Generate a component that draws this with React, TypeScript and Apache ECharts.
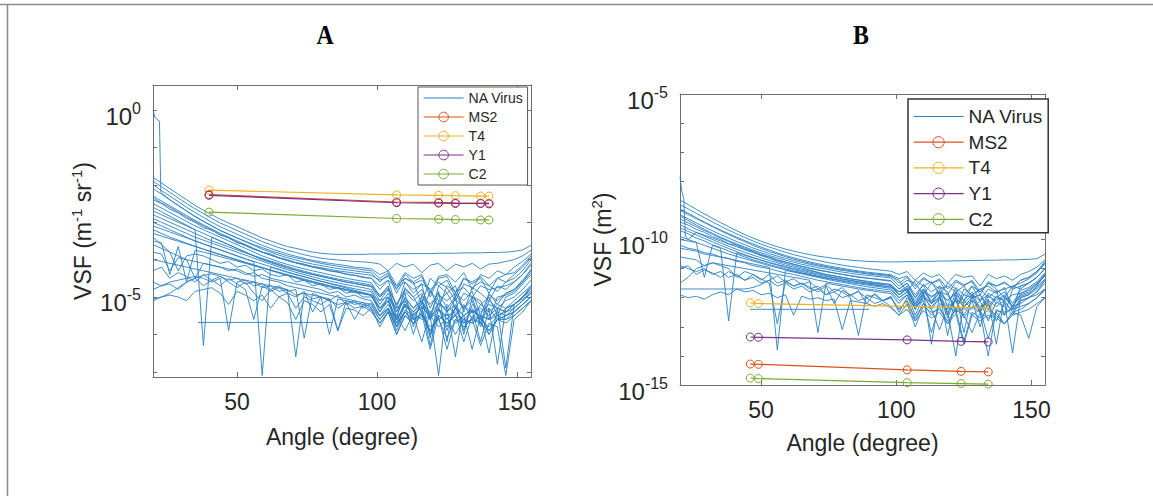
import React, { useEffect, useRef } from 'react';
import * as echarts from 'echarts';

// ---------- DATA (VSF values stored as log10 exponents) ----------
const angleGrid = [20, 23, 26, 29, 32, 35, 38, 41, 44, 47, 50, 53, 56, 59, 62, 65, 68, 71, 74, 77, 80, 83, 86, 89, 92, 95, 98, 101, 104, 107, 110, 113, 116, 119, 122, 125, 128, 131, 134, 137, 140, 143, 146, 149, 152, 155];

const xTickValues = [50, 100, 150];
const yTicksA = [-5, 0];
const yMinorA = [-7, -6, -5, -4, -3, -2, -1, 0];
const yTicksB = [-15, -10, -5];
const yMinorB = [-15, -14, -13, -12, -11, -10, -9, -8, -7, -6, -5];

// Panel A: NA virus curves, log10(VSF in m^-1 sr^-1)
const naVirusA: number[][] = [
  [-1.8, -1.95, -2.1, -2.25, -2.4, -2.55, -2.68, -2.8, -2.92, -3.02, -3.12, -3.22, -3.32, -3.42, -3.5, -3.58, -3.65, -3.7, -3.75, -3.8, -3.83, -3.85, -3.86, -3.86, -3.86, -3.86, -3.85, -3.85, -3.85, -3.85, -3.84, -3.84, -3.84, -3.84, -3.83, -3.83, -3.83, -3.82, -3.82, -3.82, -3.81, -3.81, -3.8, -3.78, -3.74, -3.62],
  [-1.9, -2.05, -2.2, -2.35, -2.5, -2.64, -2.77, -2.9, -3.02, -3.12, -3.22, -3.32, -3.42, -3.52, -3.6, -3.68, -3.75, -3.81, -3.87, -3.92, -3.96, -3.99, -4.01, -4.03, -4.05, -4.06, -4.08, -4.12, -4.3, -4.1, -4.2, -4.12, -4.35, -4.15, -4.1, -4.3, -4.12, -4.2, -4.1, -4.25, -4.12, -4.1, -4.05, -4.0, -3.9, -3.75],
  [-2.0, -2.15, -2.3, -2.45, -2.6, -2.74, -2.87, -3.0, -3.12, -3.22, -3.32, -3.42, -3.52, -3.62, -3.7, -3.78, -3.85, -3.91, -3.97, -4.02, -4.06, -4.1, -4.13, -4.16, -4.2, -4.22, -4.25, -4.4, -4.3, -4.7, -4.35, -4.5, -4.4, -4.9, -4.45, -4.4, -4.6, -4.35, -4.8, -4.4, -4.5, -4.3, -4.4, -4.2, -4.05, -3.85],
  [-2.1, -2.25, -2.4, -2.55, -2.7, -2.84, -2.97, -3.1, -3.22, -3.32, -3.42, -3.52, -3.62, -3.72, -3.8, -3.88, -3.95, -4.01, -4.07, -4.12, -4.16, -4.2, -4.24, -4.27, -4.3, -4.33, -4.36, -4.6, -4.4, -4.9, -4.5, -4.6, -5.2, -4.5, -4.7, -4.55, -5.0, -4.5, -4.65, -4.5, -4.9, -4.5, -4.6, -4.4, -4.2, -3.95],
  [-2.3, -2.43, -2.56, -2.69, -2.82, -2.95, -3.07, -3.18, -3.3, -3.4, -3.5, -3.6, -3.7, -3.8, -3.88, -3.96, -4.03, -4.09, -4.15, -4.2, -4.25, -4.3, -4.34, -4.38, -4.42, -4.46, -4.5, -4.8, -4.55, -5.3, -4.6, -4.8, -4.65, -5.6, -4.7, -4.9, -4.7, -5.4, -4.75, -4.9, -5.1, -4.7, -4.8, -4.6, -4.4, -4.15],
  [-2.5, -2.62, -2.74, -2.86, -2.98, -3.1, -3.2, -3.3, -3.4, -3.5, -3.6, -3.7, -3.8, -3.9, -3.98, -4.06, -4.13, -4.19, -4.25, -4.3, -4.35, -4.4, -4.45, -4.5, -4.54, -4.58, -4.62, -5.0, -4.7, -5.6, -4.75, -5.0, -4.8, -5.3, -4.85, -6.2, -4.9, -5.1, -4.85, -5.5, -4.9, -5.2, -4.9, -4.8, -4.55, -4.3],
  [-2.7, -2.8, -2.9, -3.0, -3.1, -3.2, -3.3, -3.4, -3.5, -3.6, -3.7, -3.8, -3.9, -4.0, -4.08, -4.16, -4.23, -4.29, -4.35, -4.4, -4.45, -4.5, -4.55, -4.6, -4.64, -4.68, -4.72, -5.1, -4.8, -5.4, -4.9, -5.8, -4.95, -5.2, -4.9, -5.3, -5.0, -6.0, -5.0, -5.2, -5.0, -5.5, -5.0, -4.9, -4.65, -4.4],
  [-2.9, -3.0, -3.1, -3.2, -3.3, -3.4, -3.48, -3.56, -3.64, -3.72, -3.8, -3.88, -3.96, -4.04, -4.12, -4.2, -4.27, -4.34, -4.4, -4.46, -4.52, -4.57, -4.62, -4.67, -4.71, -4.75, -4.8, -5.2, -4.9, -5.5, -5.0, -5.3, -5.0, -6.1, -5.1, -5.4, -5.05, -5.3, -5.1, -5.8, -5.1, -5.3, -5.1, -5.0, -4.8, -4.55],
  [-3.1, -3.18, -3.26, -3.34, -3.42, -3.5, -3.58, -3.66, -3.74, -3.82, -3.9, -3.98, -4.05, -4.12, -4.19, -4.26, -4.33, -4.4, -4.46, -4.52, -4.58, -4.63, -4.68, -4.73, -4.78, -4.82, -4.86, -5.3, -5.0, -5.7, -5.1, -5.4, -5.1, -5.5, -7.1, -5.2, -5.5, -5.2, -5.6, -5.2, -5.4, -5.2, -5.3, -5.1, -4.9, -4.7],
  [-3.3, -3.37, -3.44, -3.51, -3.58, -3.65, -3.72, -3.79, -3.86, -3.93, -4.0, -4.07, -4.14, -4.21, -4.28, -4.35, -4.42, -4.49, -4.56, -4.62, -4.68, -4.73, -4.78, -4.83, -4.88, -4.92, -4.96, -5.4, -5.1, -5.8, -5.2, -5.5, -5.25, -6.3, -5.3, -5.6, -5.3, -5.7, -5.35, -5.5, -6.5, -5.3, -5.4, -5.2, -5.0, -4.85],
  [-3.5, -3.55, -4.4, -3.65, -4.6, -3.75, -3.8, -3.86, -3.92, -3.98, -4.04, -4.1, -4.16, -4.22, -4.28, -4.34, -4.4, -4.46, -4.52, -4.58, -4.64, -4.7, -4.75, -4.8, -4.85, -4.9, -4.95, -5.3, -5.1, -5.6, -5.2, -6.0, -5.25, -5.5, -5.3, -5.8, -5.3, -5.5, -5.35, -6.2, -5.3, -5.6, -5.3, -5.2, -5.05, -4.9],
  [-3.4, -3.6, -3.8, -4.3, -3.9, -3.85, -3.9, -4.0, -4.1, -4.05, -4.2, -4.15, -4.3, -4.25, -4.4, -4.45, -4.4, -4.6, -4.55, -4.7, -4.65, -4.8, -4.75, -4.9, -4.85, -5.0, -5.0, -5.3, -5.1, -5.6, -5.2, -5.4, -5.2, -5.6, -5.3, -5.9, -5.25, -5.5, -5.3, -5.6, -5.3, -6.8, -5.3, -5.2, -5.0, -4.7],
  [-5.1, -5.0, -4.9, -4.75, -4.6, -4.5, -4.42, -4.38, -4.45, -4.55, -4.5, -4.65, -4.6, -4.75, -4.7, -4.85, -4.8, -4.95, -4.9, -5.05, -5.0, -5.1, -5.2, -5.15, -5.3, -5.25, -5.4, -5.7, -5.4, -6.0, -5.5, -5.7, -5.5, -5.9, -5.55, -6.4, -5.6, -5.8, -5.6, -5.7, -5.9, -5.6, -5.7, -5.5, -5.3, -5.1],
  [-5.05, -5.0, -4.95, -5.0, -5.1, -4.85, -4.8, -4.75, -4.9, -5.2, -4.85, -4.95, -5.1, -4.95, -5.3, -5.0, -5.15, -5.6, -5.1, -5.2, -5.4, -5.2, -5.9, -5.3, -5.35, -5.5, -5.3, -5.8, -5.4, -6.0, -5.5, -5.7, -5.5, -5.8, -5.6, -6.1, -5.6, -5.7, -5.6, -6.3, -5.7, -5.8, -7.1, -5.6, -5.4, -5.1],
  [-3.0, -3.1, -3.2, -3.3, -3.4, -3.5, -3.58, -3.66, -3.74, -3.82, -3.9, -3.98, -4.06, -7.1, -4.2, -4.27, -4.34, -4.4, -4.46, -4.52, -4.58, -4.64, -4.7, -4.76, -4.82, -4.88, -4.94, -5.4, -5.0, -5.3, -5.1, -5.6, -5.15, -5.4, -5.2, -5.3, -6.6, -5.25, -5.4, -5.3, -5.5, -5.3, -5.4, -5.2, -5.0, -4.8],
  [-2.6, -2.72, -2.84, -2.96, -3.08, -3.2, -6.3, -3.4, -3.5, -3.6, -3.7, -3.8, -3.9, -3.98, -4.06, -4.14, -4.21, -4.28, -4.34, -4.4, -4.45, -4.5, -4.55, -4.6, -4.64, -4.68, -4.72, -5.0, -4.8, -5.2, -4.85, -5.1, -4.9, -5.5, -4.95, -5.1, -4.9, -5.3, -5.0, -5.1, -5.6, -5.0, -4.95, -4.85, -4.6, -4.35],
  [-3.6, -3.7, -3.8, -3.9, -4.0, -4.05, -4.1, -4.15, -4.2, -4.25, -4.3, -4.4, -4.35, -4.5, -4.55, -4.6, -4.7, -4.75, -4.8, -4.85, -4.9, -4.95, -5.0, -5.05, -5.1, -5.15, -5.2, -5.6, -5.3, -5.9, -5.4, -5.7, -5.4, -6.0, -5.5, -5.7, -5.45, -6.2, -5.5, -5.6, -5.8, -5.5, -5.6, -5.4, -5.2, -5.0],
  [-4.0, -4.05, -4.1, -4.15, -4.2, -4.25, -4.3, -4.35, -4.4, -4.45, -4.5, -4.55, -4.6, -4.65, -4.7, -4.75, -4.8, -6.6, -4.9, -4.95, -5.0, -5.05, -5.9, -5.1, -5.15, -5.2, -5.25, -5.5, -5.3, -5.7, -5.4, -5.6, -5.45, -6.4, -5.5, -5.7, -5.5, -5.8, -5.55, -5.7, -6.0, -5.6, -5.6, -5.5, -5.3, -5.1],
  [-2.4, -2.5, -2.65, -2.75, -2.9, -3.0, -3.15, -3.2, -3.35, -3.4, -3.55, -3.6, -3.72, -3.8, -3.85, -3.95, -4.0, -4.08, -4.12, -4.2, -4.22, -4.3, -4.32, -4.4, -4.42, -4.48, -4.5, -4.7, -4.55, -4.75, -4.6, -4.9, -4.65, -4.8, -5.3, -4.7, -4.85, -4.75, -5.0, -4.7, -4.8, -4.75, -4.7, -4.6, -4.4, -4.1],
  [-4.3, -4.2, -4.5, -4.35, -4.45, -4.6, -4.4, -4.55, -4.7, -4.5, -4.65, -4.8, -5.6, -4.7, -4.85, -4.75, -4.9, -5.0, -4.85, -5.4, -5.0, -5.1, -4.95, -5.2, -5.1, -5.3, -5.15, -5.5, -5.3, -5.8, -5.35, -5.5, -6.2, -5.4, -5.6, -5.45, -5.7, -5.5, -6.4, -5.5, -5.6, -5.5, -5.4, -5.3, -5.1, -4.9],
  [-4.6, -4.7, -4.65, -4.8, -4.6, -4.5, -4.7, -4.55, -4.45, -4.6, -4.75, -4.6, -4.9, -5.1, -4.8, -5.0, -4.9, -5.3, -5.0, -5.1, -5.2, -5.05, -5.3, -5.15, -5.6, -5.2, -5.35, -5.7, -5.4, -5.5, -5.9, -5.45, -5.6, -5.5, -5.8, -5.55, -6.0, -5.6, -5.7, -5.5, -5.9, -5.6, -5.5, -5.4, -5.2, -5.0],
  [-2.8, -2.9, -3.0, -3.1, -3.2, -3.3, -3.4, -3.5, -3.58, -3.66, -3.74, -3.82, -3.9, -3.97, -4.04, -4.11, -4.18, -4.25, -4.31, -4.37, -4.42, -4.47, -4.52, -4.56, -4.6, -4.64, -4.68, -4.95, -4.75, -5.2, -4.8, -5.0, -5.4, -4.85, -5.1, -4.9, -5.3, -4.9, -5.0, -5.7, -4.95, -5.1, -4.9, -4.8, -4.6, -4.25],
  [-2.35, -2.48, -2.6, -2.73, -2.86, -2.98, -3.1, -3.22, -3.33, -3.43, -3.53, -3.63, -3.72, -3.8, -3.88, -3.95, -4.02, -4.08, -4.13, -4.18, -4.22, -4.26, -4.3, -4.33, -4.36, -4.39, -4.42, -4.55, -4.45, -4.7, -4.5, -4.65, -4.55, -4.8, -4.6, -4.75, -5.1, -4.65, -4.75, -4.6, -4.7, -4.85, -4.6, -4.5, -4.3, -4.0],
  [-4.8, -4.7, -4.6, -4.55, -4.5, -4.45, -4.5, -4.6, -4.5, -5.9, -4.6, -4.55, -4.7, -4.65, -4.8, -4.7, -4.85, -4.8, -6.1, -4.9, -5.0, -6.0, -5.05, -5.1, -5.2, -5.15, -5.3, -5.6, -5.35, -5.8, -5.4, -5.6, -5.45, -5.9, -5.5, -5.7, -5.5, -5.6, -5.7, -5.5, -6.0, -5.6, -5.5, -5.4, -5.2, -5.0],
  [-3.2, -3.3, -3.4, -3.48, -3.56, -3.64, -3.72, -3.8, -3.87, -3.94, -4.01, -4.08, -4.15, -4.22, -4.29, -4.36, -4.42, -4.48, -4.54, -4.6, -4.65, -4.7, -4.75, -4.8, -4.85, -4.9, -4.95, -5.1, -5.0, -5.4, -5.05, -5.3, -5.1, -5.6, -5.15, -5.4, -5.2, -5.9, -5.2, -5.4, -5.2, -5.3, -6.9, -5.2, -5.0, -4.75],
  [-3.8, -3.85, -4.3, -3.95, -4.0, -4.5, -4.1, -4.15, -4.2, -4.3, -4.25, -4.35, -4.45, -4.4, -4.5, -4.55, -4.6, -4.65, -4.7, -4.75, -4.8, -4.9, -4.85, -5.0, -4.95, -5.05, -5.1, -5.5, -5.2, -5.6, -5.25, -5.45, -5.3, -6.0, -5.35, -5.5, -5.4, -5.6, -5.4, -5.5, -5.6, -5.4, -5.5, -5.3, -5.1, -4.9],
];
// Panel A: curves with their own angles ([angle, log10 VSF])
const naSpikeCurveA: number[][] = [[20, 0.0], [20.7, -0.2], [22.3, -0.3], [22.8, -2.2], [26, -2.4], [29, -2.55], [32, -2.7], [35, -2.85], [38, -2.98], [41, -3.1], [44, -3.22], [47, -3.32], [50, -3.42], [56, -3.6], [62, -3.76], [68, -3.9], [74, -4.0], [80, -4.1], [86, -4.18], [92, -4.24], [98, -4.3], [101, -4.5], [104, -4.35], [107, -4.8], [110, -4.4], [113, -4.6], [116, -4.45], [119, -5.0], [122, -4.5], [125, -4.45], [128, -4.9], [131, -4.5], [134, -4.6], [137, -4.45], [140, -4.7], [143, -4.5], [146, -4.4], [149, -4.35], [152, -4.15], [155, -3.9]];
const naFlatSegmentA: number[][] = [[36, -5.68], [84, -5.68]];

// Panel A: phage measurements
const phageAnglesA = [40, 107, 122, 128, 137, 140];
const ms2A = [-2.26, -2.46, -2.47, -2.48, -2.49, -2.49];
const t4A = [-2.14, -2.27, -2.28, -2.29, -2.3, -2.3];
const y1A = [-2.28, -2.48, -2.49, -2.5, -2.5, -2.51];
const c2A = [-2.73, -2.9, -2.92, -2.93, -2.94, -2.94];

// Panel B: NA virus curves, log10(VSF in m^2)
const naVirusB: number[][] = [
  [-8.64, -8.8, -8.96, -9.12, -9.27, -9.42, -9.56, -9.7, -9.83, -9.95, -10.06, -10.16, -10.25, -10.33, -10.4, -10.46, -10.52, -10.57, -10.61, -10.65, -10.68, -10.71, -10.73, -10.75, -10.76, -10.77, -10.77, -10.77, -10.76, -10.76, -10.75, -10.75, -10.74, -10.74, -10.73, -10.73, -10.72, -10.72, -10.71, -10.71, -10.7, -10.7, -10.69, -10.68, -10.66, -10.5],
  [-8.8, -8.95, -9.1, -9.25, -9.4, -9.54, -9.68, -9.81, -9.93, -10.05, -10.16, -10.26, -10.35, -10.44, -10.52, -10.59, -10.66, -10.72, -10.78, -10.83, -10.88, -10.92, -10.96, -11.0, -11.03, -11.06, -11.09, -11.2, -11.1, -11.4, -11.15, -11.3, -11.2, -11.5, -11.2, -11.3, -11.25, -11.6, -11.2, -11.35, -11.25, -11.4, -11.2, -11.1, -10.95, -10.7],
  [-9.0, -9.14, -9.28, -9.42, -9.56, -9.7, -9.83, -9.96, -10.08, -10.2, -10.31, -10.41, -10.5, -10.59, -10.67, -10.74, -10.81, -10.87, -10.93, -10.98, -11.03, -11.07, -11.11, -11.15, -11.18, -11.21, -11.24, -11.5, -11.3, -11.7, -11.35, -11.5, -11.4, -11.9, -11.45, -11.6, -11.4, -11.8, -11.5, -11.6, -11.45, -11.7, -11.4, -11.3, -11.1, -10.85],
  [-9.3, -9.43, -9.56, -9.69, -9.82, -9.95, -10.07, -10.19, -10.3, -10.41, -10.51, -10.6, -10.69, -10.77, -10.85, -10.92, -10.98, -11.04, -11.1, -11.15, -11.2, -11.24, -11.28, -11.32, -11.35, -11.38, -11.41, -11.7, -11.5, -12.0, -11.55, -11.8, -11.6, -12.3, -11.65, -11.9, -11.6, -12.1, -11.7, -11.85, -11.65, -12.4, -11.6, -11.5, -11.3, -11.0],
  [-9.6, -9.72, -9.84, -9.96, -10.08, -10.2, -10.31, -10.42, -10.52, -10.62, -10.71, -10.8, -10.88, -10.96, -11.03, -11.1, -11.16, -11.22, -11.27, -11.32, -11.37, -11.41, -11.45, -11.49, -11.52, -11.55, -11.58, -11.9, -11.65, -12.2, -11.7, -12.0, -11.75, -12.6, -11.8, -12.1, -11.8, -12.4, -11.85, -12.0, -11.8, -12.2, -11.75, -11.65, -11.45, -11.15],
  [-10.0, -10.05, -10.1, -11.3, -10.2, -10.3, -12.8, -10.45, -10.55, -10.63, -10.71, -10.79, -10.86, -10.93, -11.0, -11.06, -11.12, -11.18, -11.24, -11.3, -11.35, -11.4, -11.45, -11.5, -11.55, -11.6, -11.64, -11.9, -11.7, -12.3, -11.8, -12.1, -11.85, -13.3, -11.9, -12.2, -11.9, -12.5, -11.95, -12.1, -11.9, -12.3, -11.85, -11.75, -11.55, -11.25],
  [-10.3, -10.35, -10.4, -10.5, -10.55, -10.6, -10.66, -10.72, -10.78, -10.84, -10.9, -10.96, -13.8, -11.06, -11.12, -11.18, -11.24, -11.3, -11.36, -11.42, -11.47, -11.52, -11.57, -11.62, -11.66, -11.7, -11.74, -12.0, -11.8, -12.4, -11.9, -12.2, -11.95, -12.7, -12.0, -12.3, -12.0, -12.5, -12.05, -13.6, -12.0, -12.3, -11.95, -11.85, -11.65, -11.35],
  [-10.6, -10.65, -10.7, -10.9, -10.8, -10.85, -10.9, -10.95, -11.0, -11.05, -11.1, -11.15, -11.2, -11.25, -11.3, -11.35, -11.4, -13.2, -11.5, -11.55, -11.6, -11.65, -11.7, -11.74, -11.78, -11.82, -11.86, -12.2, -11.9, -12.6, -12.0, -12.3, -12.05, -12.5, -14.0, -12.1, -12.4, -12.1, -12.8, -12.15, -12.3, -12.6, -12.1, -12.0, -11.8, -11.5],
  [-11.5, -11.3, -11.0, -10.9, -10.8, -10.9, -11.0, -11.3, -11.1, -11.2, -11.4, -11.2, -11.5, -11.4, -11.6, -11.5, -11.7, -11.6, -11.9, -11.7, -11.8, -12.0, -13.3, -11.9, -12.0, -12.1, -12.0, -12.4, -12.1, -12.8, -12.2, -12.6, -12.3, -12.9, -12.4, -13.5, -12.5, -12.7, -12.4, -12.6, -12.9, -12.5, -12.4, -12.2, -12.0, -11.7],
  [-11.7, -11.7, -11.7, -11.7, -11.7, -11.7, -11.7, -11.7, -11.7, -11.65, -11.55, -11.4, -11.25, -11.45, -11.35, -11.55, -11.45, -11.7, -11.55, -11.8, -11.65, -11.95, -11.75, -12.2, -11.85, -12.1, -11.95, -12.5, -12.0, -12.3, -12.1, -13.2, -12.2, -12.4, -12.1, -12.7, -12.3, -12.5, -14.0, -12.4, -12.6, -12.3, -12.2, -12.0, -11.9, -11.7],
  [-9.15, -9.29, -9.43, -9.57, -9.7, -9.83, -9.95, -10.07, -10.18, -10.29, -10.39, -10.48, -10.57, -10.65, -10.72, -10.79, -10.85, -10.91, -10.96, -11.01, -11.06, -11.1, -11.14, -11.18, -11.21, -11.24, -11.27, -11.4, -11.8, -11.4, -11.6, -11.45, -11.9, -11.5, -11.7, -12.1, -11.6, -11.8, -11.5, -11.7, -12.0, -11.6, -11.5, -11.35, -11.15, -10.8],
  [-9.5, -9.63, -9.76, -9.88, -10.0, -10.12, -10.23, -10.34, -10.44, -10.54, -10.63, -10.72, -10.8, -10.88, -10.95, -11.02, -11.08, -11.14, -11.2, -11.25, -11.3, -11.35, -11.39, -11.43, -11.47, -11.51, -11.55, -11.9, -11.7, -12.3, -11.8, -13.6, -11.9, -12.1, -11.8, -12.3, -12.0, -11.9, -12.4, -12.0, -12.1, -13.9, -12.0, -11.9, -11.6, -11.2],
  [-9.9, -10.0, -10.1, -10.2, -10.3, -10.4, -10.5, -10.58, -10.66, -10.74, -10.82, -10.9, -10.97, -11.04, -11.1, -11.16, -11.22, -11.28, -11.33, -11.38, -11.43, -11.48, -11.52, -11.56, -11.6, -11.64, -11.68, -12.0, -11.8, -12.2, -11.9, -12.4, -12.0, -12.3, -12.1, -12.6, -12.1, -12.3, -12.2, -12.8, -12.2, -12.4, -12.1, -12.0, -11.8, -11.4],
  [-10.9, -11.0, -11.1, -11.0, -11.2, -11.1, -11.3, -11.2, -11.4, -11.3, -11.5, -11.4, -11.6, -11.5, -11.7, -11.6, -11.8, -11.7, -11.9, -11.8, -12.0, -11.9, -12.1, -12.0, -12.2, -12.1, -12.3, -12.6, -12.2, -13.0, -12.3, -12.5, -12.4, -12.8, -12.4, -12.6, -13.2, -12.5, -12.7, -12.5, -12.9, -12.5, -12.6, -13.4, -12.3, -12.0],
  [-9.2, -9.35, -9.5, -9.65, -9.79, -9.92, -10.04, -10.15, -10.26, -10.36, -10.46, -10.55, -10.63, -10.71, -10.78, -10.85, -10.91, -10.97, -11.02, -11.07, -11.12, -11.16, -11.2, -11.23, -11.26, -11.29, -11.32, -11.6, -11.4, -11.5, -11.9, -11.5, -11.7, -11.6, -11.8, -11.6, -12.0, -11.7, -11.6, -11.8, -11.7, -11.6, -11.7, -11.5, -11.3, -11.0],
  [-9.4, -9.5, -9.65, -9.75, -9.9, -10.0, -10.15, -10.2, -10.35, -10.4, -10.55, -10.6, -10.72, -10.78, -10.85, -10.92, -11.0, -11.05, -11.1, -11.15, -11.2, -11.25, -11.3, -11.33, -11.36, -11.4, -11.43, -11.7, -11.5, -11.9, -11.55, -12.2, -11.6, -11.8, -12.5, -11.7, -11.9, -11.7, -12.0, -11.75, -12.6, -11.7, -11.6, -11.5, -11.3, -11.0],
  [-11.0, -10.9, -11.2, -11.05, -11.15, -11.3, -11.1, -11.25, -11.4, -11.2, -11.35, -11.5, -12.9, -11.45, -11.6, -11.5, -11.65, -11.8, -11.6, -12.2, -11.75, -11.9, -11.8, -12.0, -11.9, -12.1, -12.0, -12.4, -12.1, -12.7, -12.2, -12.4, -13.1, -12.3, -12.5, -12.35, -12.6, -12.4, -13.4, -12.45, -12.5, -12.4, -12.3, -12.2, -12.0, -11.75],
  [-10.2, -10.3, -10.35, -10.45, -10.5, -10.6, -10.65, -10.75, -10.8, -10.9, -10.95, -11.0, -11.08, -11.15, -11.2, -11.27, -11.33, -11.4, -11.45, -11.5, -11.55, -11.6, -11.65, -11.7, -11.73, -11.77, -11.8, -12.1, -11.9, -12.4, -11.95, -12.2, -12.0, -12.5, -12.05, -12.3, -12.1, -13.0, -12.1, -12.3, -12.1, -12.5, -12.0, -11.9, -11.7, -11.4],
  [-11.9, -12.0, -11.95, -12.05, -11.9, -11.8, -11.9, -11.7, -11.8, -11.75, -11.9, -11.85, -12.0, -11.9, -12.6, -11.95, -12.05, -12.0, -12.1, -12.05, -13.1, -12.1, -12.15, -12.2, -12.3, -12.2, -12.35, -12.6, -12.4, -12.8, -12.45, -12.7, -12.5, -12.9, -12.55, -13.6, -12.6, -12.8, -12.6, -12.7, -12.9, -12.6, -12.5, -12.4, -12.2, -12.0],
  [-8.95, -9.1, -9.25, -9.4, -9.54, -9.67, -9.8, -9.92, -10.04, -10.15, -10.26, -10.36, -10.46, -10.55, -10.63, -10.7, -10.77, -10.83, -10.89, -10.94, -10.99, -11.04, -11.08, -11.12, -11.15, -11.18, -11.21, -11.35, -11.25, -11.6, -11.3, -11.5, -11.35, -11.7, -11.4, -11.55, -11.45, -11.9, -11.45, -11.6, -11.5, -11.65, -11.4, -11.3, -11.1, -10.75],
  [-9.7, -9.8, -9.95, -10.05, -10.18, -10.28, -10.4, -10.5, -10.6, -10.7, -10.78, -10.86, -10.94, -11.01, -11.08, -11.14, -11.2, -11.26, -11.31, -11.36, -11.41, -11.45, -11.49, -11.53, -11.57, -11.6, -11.63, -11.8, -11.7, -12.1, -11.75, -11.95, -11.8, -12.1, -11.85, -13.2, -11.9, -12.1, -11.9, -12.2, -11.95, -12.3, -11.9, -11.8, -11.55, -11.2],
];
const naSpikeCurveB: number[][] = [[20, -7.85], [20.6, -8.3], [21.4, -8.6], [22, -9.9], [23, -10.0], [26, -9.75], [29, -9.85], [32, -9.95], [35, -10.05], [38, -10.15], [41, -10.25], [44, -10.35], [47, -10.45], [50, -10.55], [56, -10.75], [62, -10.9], [68, -11.05], [74, -11.2], [80, -11.3], [86, -11.4], [92, -11.5], [98, -11.55], [101, -11.8], [104, -11.6], [107, -12.0], [110, -11.7], [113, -12.2], [116, -11.8], [119, -11.9], [122, -12.4], [125, -11.9], [128, -12.0], [131, -11.9], [134, -12.3], [137, -11.95], [140, -12.1], [143, -11.9], [146, -11.85], [149, -11.7], [152, -11.5], [155, -11.2]];
const naFlatSegmentB: number[][] = [[46, -12.4], [90, -12.4]];

// Panel B: phage measurements
const phageAnglesB = [46, 49, 104, 124, 134];
const ms2B = [-14.28, -14.29, -14.48, -14.53, -14.55];
const t4B = [-12.18, -12.2, -12.3, -12.33, -12.35];
const y1B = [-13.35, -13.36, -13.45, -13.5, -13.52];
const c2B = [-14.76, -14.78, -14.92, -14.95, -14.97];

const legendNames = ['NA Virus', 'MS2', 'T4', 'Y1', 'C2'];

// ---------- STYLE ----------
const FONT = '"Liberation Sans", Arial, Helvetica, sans-serif';
const AXIS = '#6e6e6e';
const TEXT = '#262626';
const NA_COLOR = '#2a80c4';
const PHAGE_COLORS: Record<string, string> = { MS2: '#D95319', T4: '#EDB120', Y1: '#7E2F8E', C2: '#77AC30' };

function buildOption() {
  const series: any[] = [];
  const naLine = (xi: number, yi: number, data: any[]) => ({
    type: 'line', name: 'NA Virus', xAxisIndex: xi, yAxisIndex: yi, data,
    symbol: 'none', showSymbol: false, silent: true,
    itemStyle: { color: NA_COLOR },
    lineStyle: { color: NA_COLOR, width: 0.9 },
  });
  const phageLine = (name: string, xi: number, yi: number, angles: number[], vals: number[]) => ({
    type: 'line', name, xAxisIndex: xi, yAxisIndex: yi,
    data: angles.map((a, i) => [a, vals[i]]),
    symbol: 'circle', symbolSize: 8, showSymbol: true, silent: true,
    itemStyle: { color: 'transparent', borderColor: PHAGE_COLORS[name], borderWidth: 1 },
    lineStyle: { color: PHAGE_COLORS[name], width: 1.2 },
  });

  naVirusA.forEach((c) => series.push(naLine(0, 0, angleGrid.map((a, i) => [a, c[i]]))));
  series.push(naLine(0, 0, naSpikeCurveA));
  series.push(naLine(0, 0, naFlatSegmentA));
  series.push(phageLine('MS2', 0, 0, phageAnglesA, ms2A));
  series.push(phageLine('T4', 0, 0, phageAnglesA, t4A));
  series.push(phageLine('Y1', 0, 0, phageAnglesA, y1A));
  series.push(phageLine('C2', 0, 0, phageAnglesA, c2A));

  naVirusB.forEach((c) => series.push(naLine(2, 2, angleGrid.map((a, i) => [a, c[i]]))));
  series.push(naLine(2, 2, naSpikeCurveB));
  series.push(naLine(2, 2, naFlatSegmentB));
  series.push(phageLine('MS2', 2, 2, phageAnglesB, ms2B));
  series.push(phageLine('T4', 2, 2, phageAnglesB, t4B));
  series.push(phageLine('Y1', 2, 2, phageAnglesB, y1B));
  series.push(phageLine('C2', 2, 2, phageAnglesB, c2B));

  const xAxes = (gridIndex: number, nameGap: number) => [
    {
      type: 'value', gridIndex, min: 20, max: 155, position: 'bottom',
      axisLine: { show: true, onZero: false, lineStyle: { color: AXIS, width: 1 } },
      axisTick: { show: true, inside: true, length: 5, customValues: xTickValues, lineStyle: { color: AXIS } },
      axisLabel: { show: true, customValues: xTickValues, fontSize: 23, fontFamily: FONT, color: TEXT, margin: 13 },
      splitLine: { show: false },
      name: 'Angle (degree)', nameLocation: 'middle', nameGap,
      nameTextStyle: { fontSize: 23, fontFamily: FONT, color: TEXT },
    },
    {
      type: 'value', gridIndex, min: 20, max: 155, position: 'top',
      axisLine: { show: true, onZero: false, lineStyle: { color: AXIS, width: 1 } },
      axisTick: { show: true, inside: true, length: 5, customValues: xTickValues, lineStyle: { color: AXIS } },
      axisLabel: { show: false },
      splitLine: { show: false },
    },
  ];

  const supRich = {
    b: { fontSize: 24, lineHeight: 24, verticalAlign: 'bottom', fontFamily: FONT, color: TEXT },
    s: { fontSize: 16, lineHeight: 16, verticalAlign: 'bottom', padding: [0, 0, 12, 0], fontFamily: FONT, color: TEXT },
  };

  const yAxes = (gridIndex: number, min: number, max: number, labels: number[], minor: number[], name: string, nameGap: number) => [
    {
      type: 'value', gridIndex, min, max, position: 'left',
      axisLine: { show: true, onZero: false, lineStyle: { color: AXIS, width: 1 } },
      axisTick: { show: true, inside: true, length: 4, customValues: minor, lineStyle: { color: AXIS } },
      axisLabel: {
        show: true, customValues: labels, margin: 12, padding: [12, 0, 0, 0],
        formatter: (v: number) => `{b|10}{s|${v}}`, rich: supRich,
      },
      splitLine: { show: false },
      name, nameLocation: 'middle', nameGap,
      nameTextStyle: {
        fontSize: 23, fontFamily: FONT, color: TEXT,
        rich: { s: { fontSize: 15, verticalAlign: 'bottom', padding: [0, 0, 13, 0], fontFamily: FONT, color: TEXT } },
      },
    },
    {
      type: 'value', gridIndex, min, max, position: 'right',
      axisLine: { show: true, onZero: false, lineStyle: { color: AXIS, width: 1 } },
      axisTick: { show: true, inside: true, length: 4, customValues: minor, lineStyle: { color: AXIS } },
      axisLabel: { show: false },
      splitLine: { show: false },
    },
  ];

  const legendData = (w: number) => legendNames.map((n) => n === 'NA Virus'
    ? { name: n, icon: `path://M0,0H${w}V1H0Z`, itemStyle: { color: NA_COLOR, borderWidth: 0 } }
    : { name: n, itemStyle: { color: 'transparent', borderColor: PHAGE_COLORS[n], borderWidth: 1 }, lineStyle: { color: PHAGE_COLORS[n], width: 1.2 } });

  return {
    animation: false,
    backgroundColor: '#ffffff',
    grid: [
      { left: 153, top: 85, width: 378, height: 292, containLabel: false },
      { left: 680, top: 94, width: 365, height: 291, containLabel: false },
    ],
    xAxis: [...xAxes(0, 48), ...xAxes(1, 46)],
    yAxis: [
      ...yAxes(0, -7.14, 0.67, yTicksA, yMinorA, 'VSF (m{s|-1} sr{s|-1})', 56),
      ...yAxes(1, -15, -5, yTicksB, yMinorB, 'VSF (m{s|2})', 45),
    ],
    legend: [
      {
        left: 418, top: 87, orient: 'vertical', padding: [4, 4, 4, 5], itemGap: 5,
        itemWidth: 40, itemHeight: 12, selectedMode: false,
        backgroundColor: '#ffffff', borderColor: '#555555', borderWidth: 1,
        textStyle: { fontSize: 14, fontFamily: FONT, color: TEXT },
        data: legendData(40),
      },
      {
        left: 908, top: 99, orient: 'vertical', padding: [8, 5, 4, 5], itemGap: 6.7,
        itemWidth: 50, itemHeight: 14, selectedMode: false,
        backgroundColor: '#ffffff', borderColor: '#333333', borderWidth: 1.5,
        textStyle: { fontSize: 19, fontFamily: FONT, color: TEXT },
        data: legendData(50),
      },
    ],
    graphic: [
      { type: 'line', shape: { x1: 0, y1: 4.5, x2: 1153, y2: 4.5 }, style: { stroke: '#8a8a8a', lineWidth: 1.5 }, silent: true },
      { type: 'line', shape: { x1: 7.5, y1: 4, x2: 7.5, y2: 496 }, style: { stroke: '#8a8a8a', lineWidth: 1.5 }, silent: true },
      { type: 'text', x: 325, y: 35, scaleX: 0.85, style: { text: 'A', font: 'bold 28px "Liberation Serif", "Times New Roman", serif', fill: '#000', align: 'center', verticalAlign: 'middle' }, silent: true },
      { type: 'text', x: 861, y: 35, scaleX: 0.85, style: { text: 'B', font: 'bold 28px "Liberation Serif", "Times New Roman", serif', fill: '#000', align: 'center', verticalAlign: 'middle' }, silent: true },
    ],
    series,
  };
}

export default function App() {
  const ref = useRef<HTMLDivElement>(null);
  useEffect(() => {
    if (!ref.current) return;
    const chart = echarts.init(ref.current, undefined, { renderer: 'svg' });
    chart.setOption(buildOption() as any);
    return () => chart.dispose();
  }, []);
  return (
    <div
      ref={ref}
      style={{ position: 'fixed', left: 0, top: 0, width: 1153, height: 496, background: '#fff' }}
    />
  );
}
